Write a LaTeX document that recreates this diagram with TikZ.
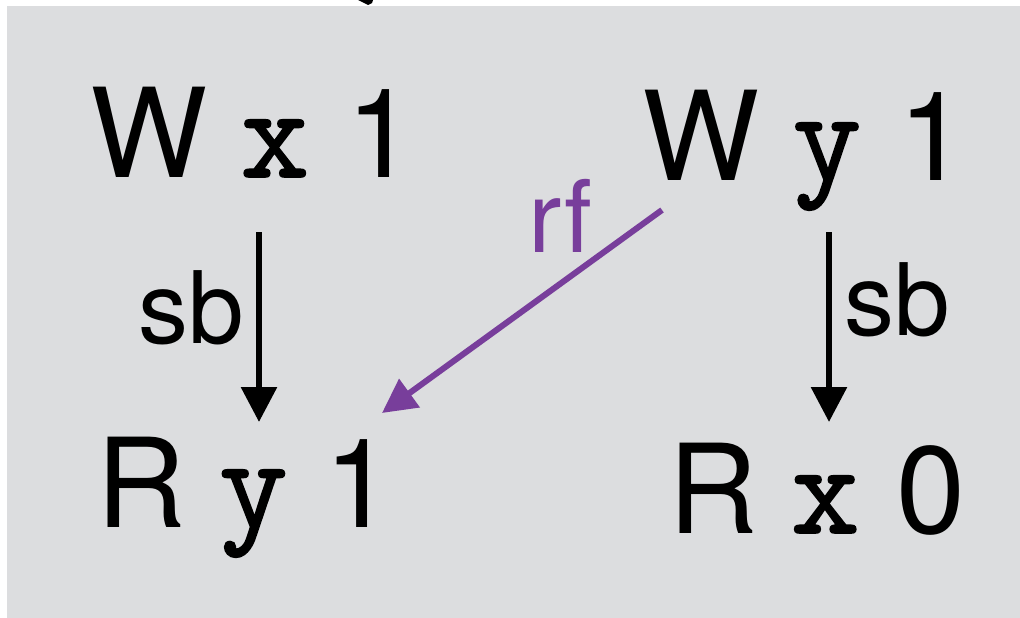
\documentclass[tikz,border=0pt]{standalone}
\usepackage{fontspec}
\setmainfont{TeX Gyre Heros}
\newfontfamily\evmono[FakeBold=1.4,Scale=1.07]{Latin Modern Mono}
\usetikzlibrary{arrows.meta}
\definecolor{panelgray}{RGB}{220,221,223}
\definecolor{rfpurple}{RGB}{120,62,155}
\newcommand{\ev}[3]{#1\hspace{0.27em}{\evmono #2}\hspace{0.3em}#3}
\tikzset{
  event/.style={inner sep=0pt, anchor=base west, font=\fontsize{124}{124}\selectfont},
  rel/.style={inner sep=0pt, font=\fontsize{100}{100}\selectfont},
  sbarrow/.style={line width=6pt, -{Triangle[width=35pt,length=35pt]}},
  rfarrow/.style={line width=6pt, rfpurple, -{Triangle[width=34pt,length=34pt]}}
}
\begin{document}
\begin{tikzpicture}[x=1pt,y=-1pt]
\useasboundingbox (0,0) rectangle (1020,618);
\fill[white] (0,0) rectangle (1020,618);
\fill[panelgray] (7,6) rectangle (1020,618);
\fill[black] (358,0) -- (373,0) -- (372,3) -- (368,5) -- cycle;

\node[event] (wx1) at (90,177) {\ev{W}{x}{1}};
\node[event] (wy1) at (642,180) {\ev{W}{y}{1}};
\node[event] (ry1) at (96,527) {\ev{R}{y}{1}};
\node[event] (rx0) at (668,533) {\ev{R}{x}{0}};

\draw[sbarrow] ([shift={(169,55)}]wx1.base west) -- ([shift={(163,-105)}]ry1.base west);
\draw[sbarrow] ([shift={(187,52)}]wy1.base west) -- ([shift={(161,-111)}]rx0.base west);
\draw[rfarrow] ([shift={(20,30)}]wy1.base west) -- ([shift={(286,-114)}]ry1.base west);

\node[rel, anchor=base east] (sbl) at (244,343) {sb};
\node[rel, anchor=base west] (sbr) at (844,335) {sb};
\node[rel, anchor=base west, text=rfpurple] (rf) at (528,252) {rf};
\end{tikzpicture}
\end{document}
